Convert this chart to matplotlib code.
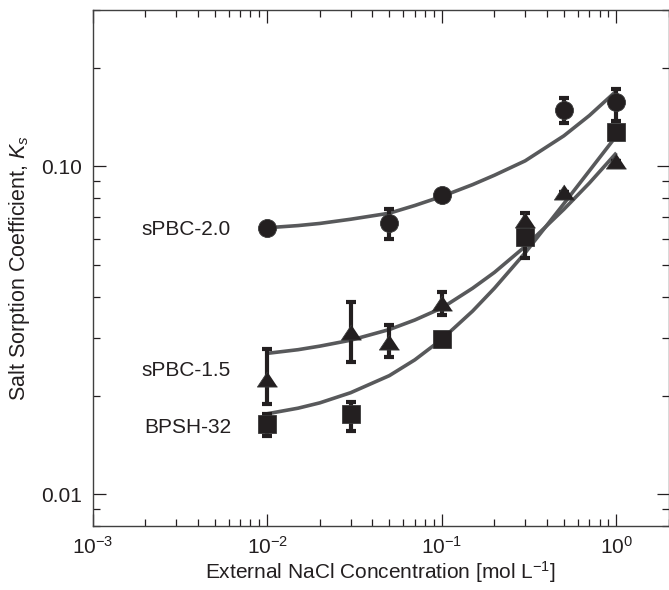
import numpy as np
import matplotlib
matplotlib.use("Agg")
import matplotlib.pyplot as plt
from matplotlib.ticker import LogLocator, NullFormatter, FixedLocator, FixedFormatter

plt.rcParams['font.family'] = ['Liberation Sans', 'DejaVu Sans']
plt.rcParams['mathtext.fontset'] = 'custom'
plt.rcParams['mathtext.rm'] = 'Liberation Sans'
plt.rcParams['mathtext.it'] = 'Liberation Sans:italic'

# --- data ---
# sPBC-2.0 (circles)
x_pbc20 = [0.01, 0.05, 0.1, 0.5, 1.0]
y_pbc20 = [0.0650, 0.067, 0.082, 0.149, 0.157]
lo_pbc20 = [0.0650, 0.060, 0.082, 0.136, 0.138]
hi_pbc20 = [0.0650, 0.074, 0.082, 0.162, 0.172]

# sPBC-1.5 (triangles)
x_pbc15 = [0.01, 0.03, 0.05, 0.1, 0.3, 0.5, 1.0]
y_pbc15 = [0.0225, 0.0313, 0.0292, 0.0383, 0.0684, 0.0837, 0.104]
lo_pbc15 = [0.0189, 0.0253, 0.0262, 0.0352, 0.064, 0.0837, 0.104]
hi_pbc15 = [0.0277, 0.0387, 0.0328, 0.0415, 0.072, 0.0837, 0.104]

# BPSH-32 (squares)
x_bpsh = [0.01, 0.03, 0.1, 0.3, 1.0]
y_bpsh = [0.0164, 0.0176, 0.0297, 0.0607, 0.127]
lo_bpsh = [0.0151, 0.0156, 0.0297, 0.0525, 0.127]
hi_bpsh = [0.0176, 0.0191, 0.0297, 0.066, 0.127]

# model curves (read at several concentrations)
x_fit = [0.01, 0.015, 0.02, 0.03, 0.05, 0.07, 0.1, 0.15, 0.2, 0.3, 0.5, 0.7, 1.0]
fit_pbc20 = [0.065, 0.066, 0.067, 0.069, 0.072, 0.076, 0.081, 0.088, 0.094, 0.104, 0.124, 0.143, 0.170]
fit_pbc15 = [0.0269, 0.0276, 0.0283, 0.0295, 0.0318, 0.0340, 0.0370, 0.0425, 0.0475, 0.0570, 0.0740, 0.089, 0.110]
fit_bpsh = [0.0176, 0.0183, 0.0190, 0.0204, 0.0230, 0.0257, 0.0297, 0.0362, 0.0425, 0.0545, 0.0770, 0.097, 0.124]

labels = ['sPBC-2.0', 'sPBC-1.5', 'BPSH-32']
label_y = [0.064, 0.0239, 0.0160]

ink = '#231f20'
line_col = '#58595b'
tri = [(0, 0.75), (-1, -0.75), (1, -0.75)]

fig = plt.figure(figsize=(6.69, 5.90), dpi=100)
ax = fig.add_axes([0.1386, 0.1085, 0.8614, 0.8745])

for yf in [fit_pbc20, fit_pbc15, fit_bpsh]:
    ax.plot(x_fit, yf, color=line_col, lw=2.6, zorder=2, solid_capstyle='butt',
            solid_joinstyle='round')

series = [
    (x_pbc20, y_pbc20, lo_pbc20, hi_pbc20, 'o', 13),
    (x_pbc15, y_pbc15, lo_pbc15, hi_pbc15, tri, 14.5),
    (x_bpsh, y_bpsh, lo_bpsh, hi_bpsh, 's', 13),
]
for xs, ys, lo, hi, mk, ms in series:
    ys = np.array(ys)
    err = [ys - np.array(lo), np.array(hi) - ys]
    ax.errorbar(xs, ys, yerr=err, fmt='none', ecolor=ink, elinewidth=3,
                capsize=3.6, capthick=3, zorder=3)
    ax.plot(xs, ys, linestyle='none', marker=mk, markersize=ms, color=ink,
            markeredgecolor='#3a3a3a', markeredgewidth=0.6, zorder=4)

for lab, ly in zip(labels, label_y):
    ax.text(0.0062, ly, lab, ha='right', va='center', fontsize=15, color=ink)

ax.set_xscale('log')
ax.set_yscale('log')
ax.set_xlim(1e-3, 2)
ax.set_ylim(0.008, 0.3)

ax.xaxis.set_major_locator(FixedLocator([1e-3, 1e-2, 1e-1, 1e0]))
ax.xaxis.set_major_formatter(FixedFormatter([r'10$^{-3}$', r'10$^{-2}$', r'10$^{-1}$', r'10$^{0}$']))
ax.xaxis.set_minor_locator(LogLocator(base=10, subs=np.arange(2, 10)))
ax.xaxis.set_minor_formatter(NullFormatter())

ax.yaxis.set_major_locator(FixedLocator([0.01, 0.1]))
ax.yaxis.set_major_formatter(FixedFormatter(['0.01', '0.10']))
ax.yaxis.set_minor_locator(LogLocator(base=10, subs=np.arange(2, 10)))
ax.yaxis.set_minor_formatter(NullFormatter())

ax.tick_params(which='both', direction='in', top=True, right=True, color=ink,
               labelsize=15, labelcolor=ink, width=0.9)
ax.tick_params(which='major', length=9, pad=8)
ax.tick_params(axis='x', which='major', pad=7)
ax.tick_params(which='minor', length=5)
for sp in ax.spines.values():
    sp.set_color('#404040')
    sp.set_linewidth(1.0)

ax.set_xlabel('External NaCl Concentration [mol L$^{-1}$]', fontsize=15, color=ink, labelpad=1)
ax.set_ylabel('Salt Sorption Coefficient, $K_s$', fontsize=15.5, color=ink)
ax.yaxis.set_label_coords(-0.105, 0.5)

fig.savefig('out.png', dpi=100)
